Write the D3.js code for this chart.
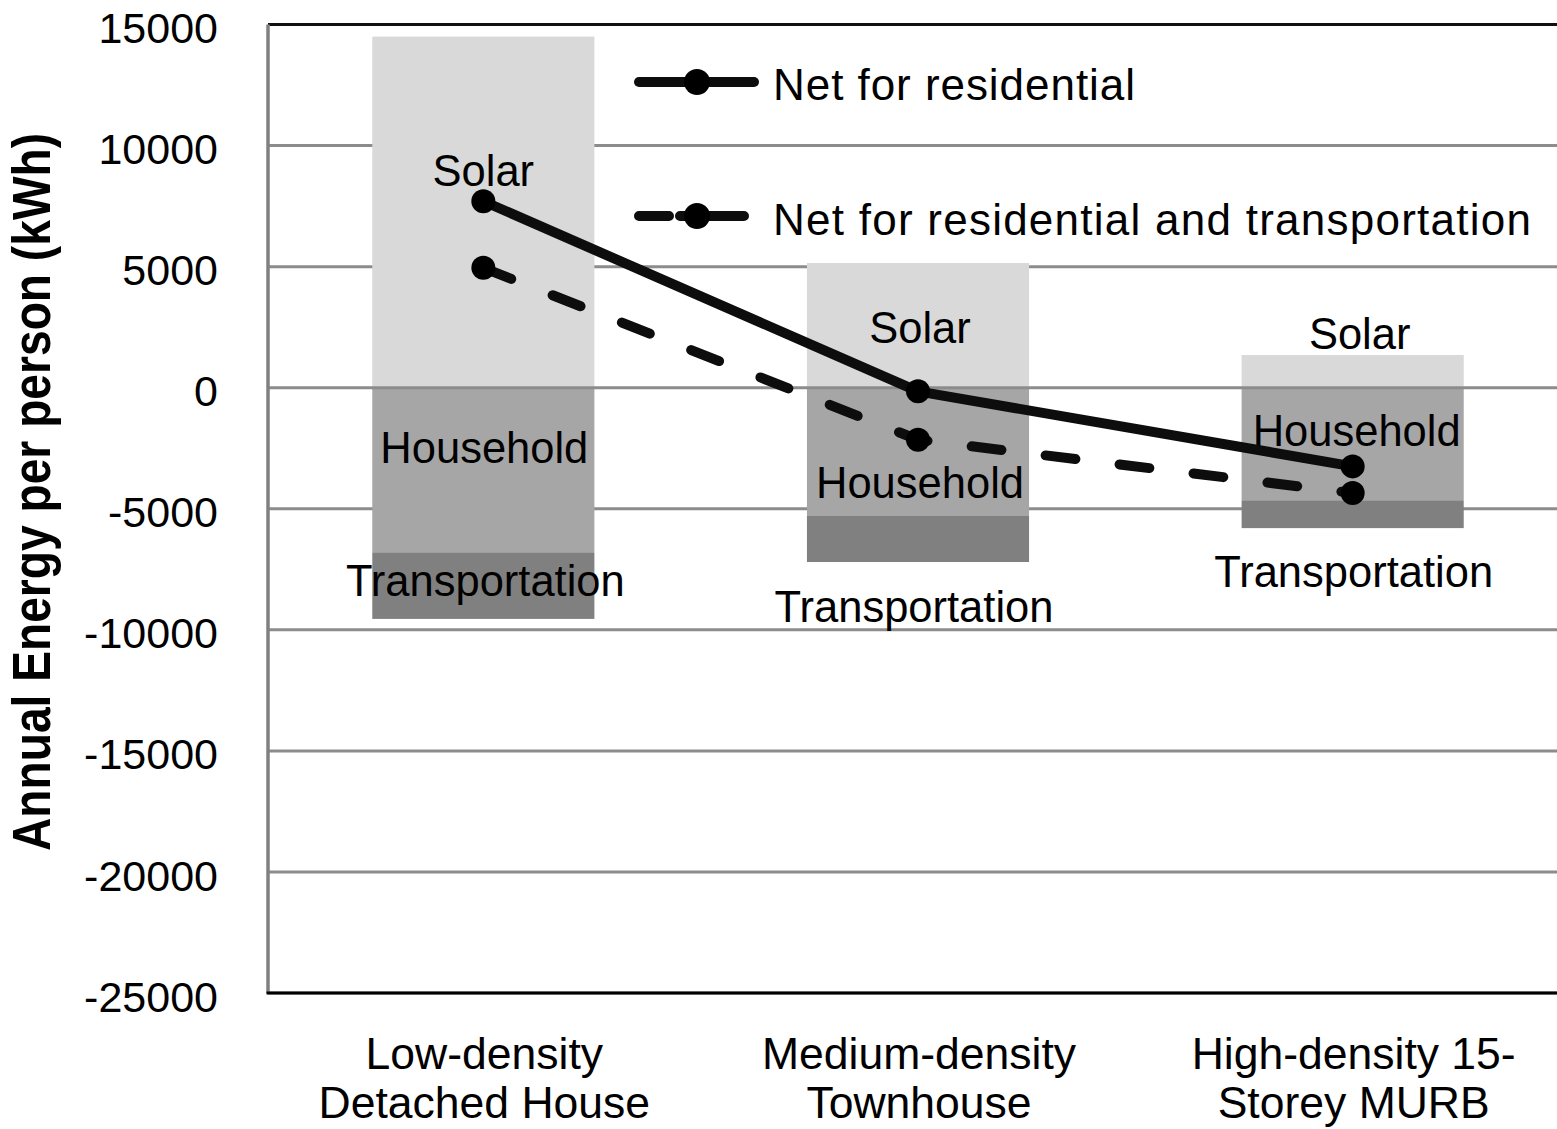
<!DOCTYPE html>
<html>
<head>
<meta charset="utf-8">
<script src="https://cdn.jsdelivr.net/npm/d3@7"></script>
<style>
  html, body { margin: 0; padding: 0; background: #fff; }
  svg { display: block; font-family: "Liberation Sans", Arial, sans-serif; }
</style>
</head>
<body>
<svg id="chart" width="1557" height="1129"></svg>
<script>
// Housing types compared
const categories = ["Low-density Detached House", "Medium-density Townhouse", "High-density 15-Storey MURB"];
const categoryLines = [["Low-density", "Detached House"], ["Medium-density", "Townhouse"], ["High-density 15-", "Storey MURB"]];

// Annual energy per person (kWh): solar generation positive, consumption negative
const solar = [14500, 5150, 1350];
const household = [-6800, -5300, -4650];
const transportation = [-2750, -1900, -1150];

// Net balances
const netResidential = [7700, -150, -3250];
const netResidentialTransport = [4950, -2150, -4350];

const yTicks = [15000, 10000, 5000, 0, -5000, -10000, -15000, -20000, -25000];
const seriesNames = ["Net for residential", "Net for residential and transportation"];

// Label placement inside each column (pixels relative to the column centre / zero line)
const segmentLabelLayout = [
  [{ t: "Solar", dx: 0, dy: -202 }, { t: "Household", dx: 1, dy: 75 }, { t: "Transportation", dx: 2, dy: 208 }],
  [{ t: "Solar", dx: 2, dy: -45 }, { t: "Household", dx: 2, dy: 110 }, { t: "Transportation", dx: -4, dy: 234 }],
  [{ t: "Solar", dx: 7, dy: -39 }, { t: "Household", dx: 4, dy: 58 }, { t: "Transportation", dx: 1, dy: 199 }]
];

const colors = { solar: "#d9d9d9", household: "#a6a6a6", transportation: "#808080", grid: "#8c8c8c" };

const svg = d3.select("#chart");
const plot = { left: 268, right: 1557, top: 24.5, bottom: 993 };

const x = d3.scaleBand()
  .domain(categories)
  .range([266, 1570])
  .paddingInner(0.489)
  .paddingOuter(0.2445);

const y = d3.scaleLinear()
  .domain([-25000, 15000])
  .range([plot.bottom, plot.top]);

// Gridlines (zero line is drawn later, above the columns)
svg.append("g")
  .selectAll("line")
  .data(yTicks.filter(d => d !== 0 && d !== 15000))
  .join("line")
  .attr("x1", plot.left).attr("x2", plot.right)
  .attr("y1", d => y(d)).attr("y2", d => y(d))
  .attr("stroke", colors.grid).attr("stroke-width", 3);

// Stacked columns
const stacks = categories.map((c, i) => [
  { key: "solar", y0: 0, y1: solar[i] },
  { key: "household", y0: 0, y1: household[i] },
  { key: "transportation", y0: household[i], y1: household[i] + transportation[i] }
].map(s => ({ ...s, cat: c })));

svg.append("g")
  .selectAll("g")
  .data(stacks)
  .join("g")
  .selectAll("rect")
  .data(d => d)
  .join("rect")
  .attr("x", d => x(d.cat))
  .attr("width", x.bandwidth())
  .attr("y", d => y(Math.max(d.y0, d.y1)))
  .attr("height", d => Math.abs(y(d.y0) - y(d.y1)))
  .attr("fill", d => colors[d.key]);

// Zero line and plot frame
svg.append("line")
  .attr("x1", plot.left).attr("x2", plot.right)
  .attr("y1", y(0)).attr("y2", y(0))
  .attr("stroke", colors.grid).attr("stroke-width", 3);

svg.append("line")
  .attr("x1", plot.left).attr("x2", plot.right)
  .attr("y1", y(15000)).attr("y2", y(15000))
  .attr("stroke", "#111").attr("stroke-width", 3);

svg.append("line")
  .attr("x1", plot.left).attr("x2", plot.left)
  .attr("y1", y(15000)).attr("y2", plot.bottom)
  .attr("stroke", "#808080").attr("stroke-width", 3.5);

svg.append("line")
  .attr("x1", plot.left - 1.5).attr("x2", plot.right)
  .attr("y1", plot.bottom).attr("y2", plot.bottom)
  .attr("stroke", "#000").attr("stroke-width", 3);

// Segment labels
const labelG = svg.append("g")
  .attr("font-size", 43.5)
  .attr("text-anchor", "middle")
  .attr("fill", "#000");
segmentLabelLayout.forEach((labels, i) => {
  const cx = x(categories[i]) + x.bandwidth() / 2;
  labels.forEach(l => {
    labelG.append("text")
      .attr("x", cx + l.dx)
      .attr("y", y(0) + l.dy)
      .text(l.t);
  });
});

// Y axis
const yAxis = d3.axisLeft(y)
  .tickValues(yTicks)
  .tickSize(0)
  .tickPadding(50)
  .tickFormat(d => String(d));

const yAxisG = svg.append("g")
  .attr("transform", `translate(${plot.left},0)`)
  .call(yAxis);
yAxisG.select(".domain").remove();
yAxisG.selectAll("text")
  .attr("font-size", 43)
  .attr("font-family", "Liberation Sans, Arial, sans-serif")
  .attr("fill", "#000")
  .attr("dy", "0.42em");

// Y axis title
svg.append("text")
  .attr("transform", "translate(49.5,492) rotate(-90)")
  .attr("text-anchor", "middle")
  .attr("font-size", 53)
  .attr("font-weight", "bold")
  .attr("textLength", 718)
  .attr("lengthAdjust", "spacingAndGlyphs")
  .text("Annual Energy per person  (kWh)");

// Category labels
const catG = svg.append("g")
  .attr("font-size", 44.5)
  .attr("text-anchor", "middle");
categories.forEach((c, i) => {
  const t = catG.append("text")
    .attr("x", x(c) + x.bandwidth() / 2 + 1)
    .attr("y", 1069);
  categoryLines[i].forEach((line, j) => {
    t.append("tspan")
      .attr("x", x(c) + x.bandwidth() / 2 + 1)
      .attr("dy", j === 0 ? 0 : 49)
      .text(line);
  });
});

// Net lines
const cx = c => x(c) + x.bandwidth() / 2;
const line = d3.line().x(d => cx(d.cat)).y(d => y(d.v));
const netSeries = [
  { name: seriesNames[0], values: netResidential, dash: null },
  { name: seriesNames[1], values: netResidentialTransport, dash: "30,44.5" }
];

netSeries.forEach(s => {
  const pts = categories.map((c, i) => ({ cat: c, v: s.values[i] }));
  svg.append("path")
    .datum(pts)
    .attr("d", line)
    .attr("fill", "none")
    .attr("stroke", "#0d0d0d")
    .attr("stroke-width", 10)
    .attr("stroke-linecap", "round")
    .attr("stroke-linejoin", "round")
    .attr("stroke-dasharray", s.dash);
  svg.append("g")
    .selectAll("circle")
    .data(pts)
    .join("circle")
    .attr("cx", d => cx(d.cat))
    .attr("cy", d => y(d.v))
    .attr("r", 12)
    .attr("fill", "#000");
});

// Legend
const legend = [
  { name: seriesNames[0], y: 82, dash: null, textY: 100, len: 362 },
  { name: seriesNames[1], y: 216, dash: "30,11,64", textY: 235, len: 758 }
];
legend.forEach(l => {
  svg.append("line")
    .attr("x1", 639).attr("x2", 754)
    .attr("y1", l.y).attr("y2", l.y)
    .attr("stroke", "#0d0d0d")
    .attr("stroke-width", 10)
    .attr("stroke-linecap", "round")
    .attr("stroke-dasharray", l.dash);
  svg.append("circle")
    .attr("cx", 697).attr("cy", l.y).attr("r", 13).attr("fill", "#000");
  svg.append("text")
    .attr("x", 773).attr("y", l.textY)
    .attr("font-size", 44)
    .attr("textLength", l.len)
    .attr("lengthAdjust", "spacing")
    .text(l.name);
});
</script>
</body>
</html>
